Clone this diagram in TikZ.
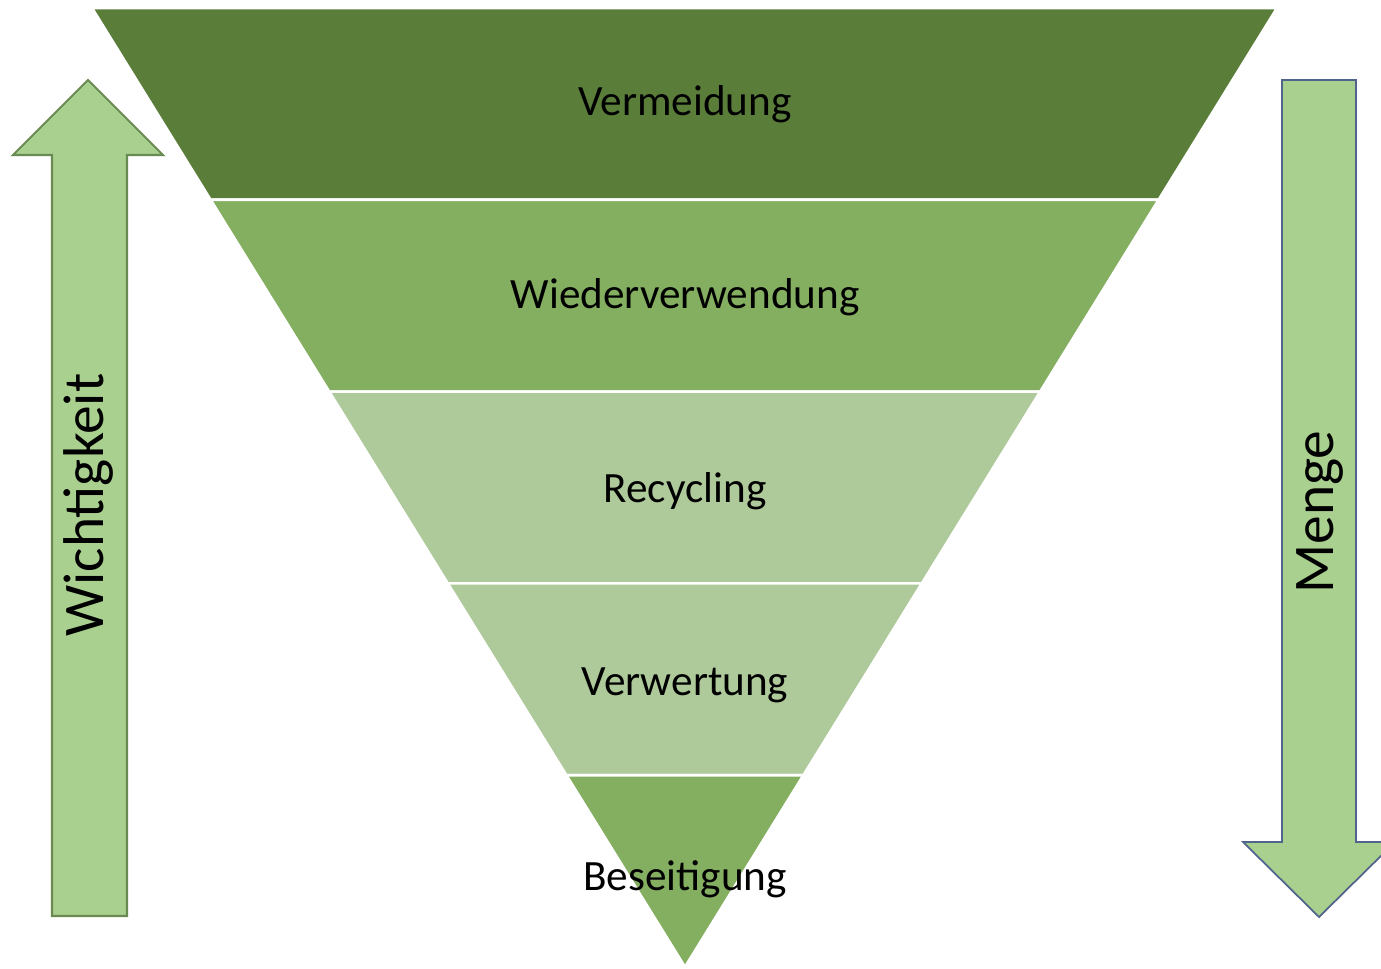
\documentclass[tikz,border=0pt]{standalone}
\usepackage{fontspec}
\setmainfont{Carlito}
\usetikzlibrary{calc}
\definecolor{darkgreen}{RGB}{90,126,58}
\definecolor{midgreen}{RGB}{132,174,96}
\definecolor{palegreen}{RGB}{174,201,154}
\definecolor{arrowgreen}{RGB}{169,208,142}
\definecolor{upedge}{RGB}{105,138,82}
\definecolor{downedge}{RGB}{80,100,140}
\begin{document}
\begin{tikzpicture}[x={(0.02cm,0cm)},y={(0cm,-0.02cm)}]
            \useasboundingbox (0,0) rectangle (1381,969);
            \coordinate (tl) at (92,8);
            \coordinate (tr) at (1277,8);
            \coordinate (apex) at (685,967);
            \foreach \a/\b/\col/\name/\txt in {0/0.2/darkgreen/vermeidung/Vermeidung,
                    0.2/0.4/midgreen/wiederverwendung/Wiederverwendung,
                    0.4/0.6/palegreen/recycling/Recycling,
                    0.6/0.8/palegreen/verwertung/Verwertung,
                    0.8/1/midgreen/beseitigung/Beseitigung} {
                \filldraw[fill=\col, draw=white, line width=1.5pt] ($(tl)!\a!(apex)$) -- ($(tr)!\a!(apex)$)
                    -- ($(tr)!\b!(apex)$) -- ($(tl)!\b!(apex)$) -- cycle;
                \node[font=\fontsize{24.6}{29}\selectfont] (\name) at (685,{7+969*(\a+\b)/2}) {\txt};
            }
            \draw[upedge, fill=arrowgreen, line width=1.2pt] (52,916) -- (52,155) -- (13,155) -- (88,80)
                -- (163,155) -- (127,155) -- (127,916) -- cycle;
            \node[rotate=90, font=\fontsize{32.7}{39}\selectfont] (wichtigkeit) at (88,505) {Wichtigkeit};
            \draw[downedge, fill=arrowgreen, line width=1pt] (1282,80) -- (1282,842) -- (1243,842) -- (1319,917)
                -- (1395,842) -- (1356,842) -- (1356,80) -- cycle;
            \node[rotate=90, font=\fontsize{32.7}{39}\selectfont] (menge) at (1320,512) {Menge};
        \end{tikzpicture}
\end{document}
